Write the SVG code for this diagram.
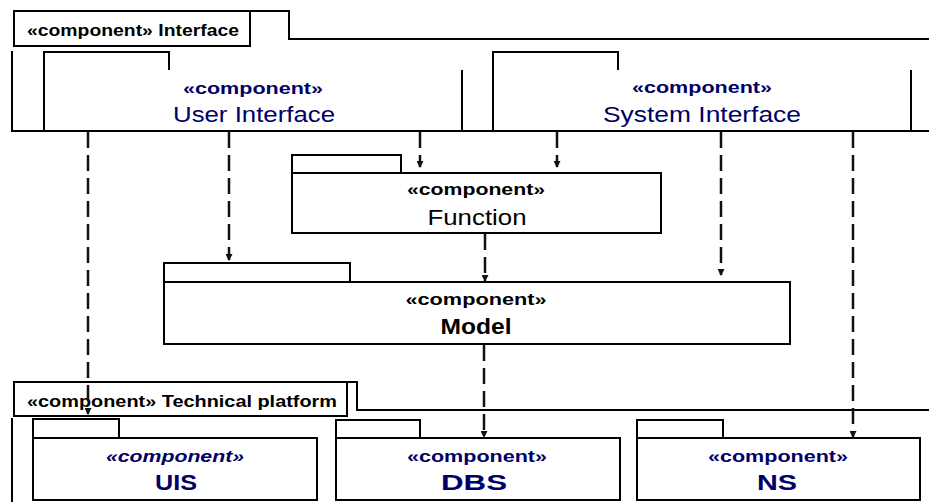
<svg xmlns="http://www.w3.org/2000/svg" width="929" height="502" viewBox="0 0 929 502">
<style>
.ln{fill:none;stroke:#000;stroke-width:2}
.bx{fill:#fff;stroke:#000;stroke-width:2}
.dep{fill:none;stroke:#111;stroke-width:2.5;stroke-dasharray:16 7}
.st{font-family:"Liberation Sans",Arial,sans-serif;font-weight:bold;font-size:16px;text-anchor:middle}
.nm{font-family:"Liberation Sans",Arial,sans-serif;font-size:22px;text-anchor:middle}
.hd{font-family:"Liberation Sans",Arial,sans-serif;font-weight:bold;font-size:17px}
.blue{fill:#000066}
.blk{fill:#000}
</style>
<defs>
<marker id="ah" markerWidth="7" markerHeight="7" refX="6" refY="3.5" orient="auto" markerUnits="userSpaceOnUse">
<path d="M0,0 L7,3.5 L0,7 Z" fill="#111"/>
</marker>
</defs>
<rect width="929" height="502" fill="#fff"/>

<g id="pkg-interface">
<path class="ln" d="M250,11 L289,11 L289,39 L929,39"/>
<path class="ln" d="M12,51 L12,131 L929,131"/>
<rect class="bx" x="14" y="11" width="236" height="35"/>
<text class="hd blk" x="27" y="36" textLength="212" lengthAdjust="spacingAndGlyphs">«component» Interface</text>
</g>

<g id="node-user-interface">
<path class="ln" d="M44,131 L44,52 L169,52 L169,70"/>
<path class="ln" d="M462,70 L462,131"/>
<text class="st blue" x="253" y="94" textLength="140" lengthAdjust="spacingAndGlyphs">«component»</text>
<text class="nm blue" x="254" y="122" textLength="162" lengthAdjust="spacingAndGlyphs">User Interface</text>
</g>

<g id="node-system-interface">
<path class="ln" d="M493,131 L493,52 L618,52 L618,70"/>
<path class="ln" d="M911,70 L911,131"/>
<text class="st blue" x="702" y="93" textLength="140" lengthAdjust="spacingAndGlyphs">«component»</text>
<text class="nm blue" x="702" y="122" textLength="198" lengthAdjust="spacingAndGlyphs">System Interface</text>
</g>

<g id="node-function">
<rect class="bx" x="292" y="155" width="109" height="18"/>
<rect class="bx" x="292" y="173" width="369" height="60"/>
<text class="st blk" x="476" y="195" textLength="138" lengthAdjust="spacingAndGlyphs">«component»</text>
<text class="nm blk" x="477" y="225" textLength="99" lengthAdjust="spacingAndGlyphs">Function</text>
</g>

<g id="node-model">
<rect class="bx" x="164" y="263" width="186" height="19"/>
<rect class="bx" x="164" y="282" width="626" height="62"/>
<text class="st blk" x="476" y="305" textLength="141" lengthAdjust="spacingAndGlyphs">«component»</text>
<text class="nm blk" x="476" y="334" font-weight="bold" textLength="71" lengthAdjust="spacingAndGlyphs">Model</text>
</g>

<g id="pkg-technical-platform">
<path class="ln" d="M347,382 L357,382 L357,410 L929,410"/>
<path class="ln" d="M12,418 L12,502"/>
<rect class="bx" x="14" y="382" width="333" height="34"/>
<text class="hd blk" x="27" y="407" textLength="310" lengthAdjust="spacingAndGlyphs">«component» Technical platform</text>
</g>

<g id="node-uis">
<rect class="bx" x="33" y="419" width="86" height="19"/>
<rect class="bx" x="33" y="438" width="284" height="62"/>
<text class="st blue" x="175" y="462" font-style="italic" textLength="138" lengthAdjust="spacingAndGlyphs">«component»</text>
<text class="nm blue" x="176" y="490" font-weight="bold" textLength="42" lengthAdjust="spacingAndGlyphs">UIS</text>
</g>

<g id="node-dbs">
<rect class="bx" x="336" y="420" width="84" height="18"/>
<rect class="bx" x="336" y="438" width="284" height="62"/>
<text class="st blue" x="477" y="462" textLength="140" lengthAdjust="spacingAndGlyphs">«component»</text>
<text class="nm blue" x="474" y="490" font-weight="bold" textLength="66" lengthAdjust="spacingAndGlyphs">DBS</text>
</g>

<g id="node-ns">
<rect class="bx" x="637" y="420" width="86" height="18"/>
<rect class="bx" x="637" y="438" width="283" height="62"/>
<text class="st blue" x="778" y="462" textLength="140" lengthAdjust="spacingAndGlyphs">«component»</text>
<text class="nm blue" x="777" y="490" font-weight="bold" textLength="40" lengthAdjust="spacingAndGlyphs">NS</text>
</g>

<g id="connectors">
<line class="dep" x1="88" y1="132" x2="88" y2="414" marker-end="url(#ah)"/>
<line class="dep" x1="229" y1="132" x2="229" y2="260" marker-end="url(#ah)"/>
<line class="dep" x1="420" y1="132" x2="420" y2="167" marker-end="url(#ah)"/>
<line class="dep" x1="557" y1="132" x2="557" y2="167" marker-end="url(#ah)"/>
<line class="dep" x1="721" y1="132" x2="721" y2="275" marker-end="url(#ah)"/>
<line class="dep" x1="853" y1="132" x2="853" y2="437" marker-end="url(#ah)"/>
<line class="dep" x1="485" y1="234" x2="485" y2="281" marker-end="url(#ah)"/>
<line class="dep" x1="484" y1="345" x2="484" y2="437" marker-end="url(#ah)"/>
</g>
</svg>
